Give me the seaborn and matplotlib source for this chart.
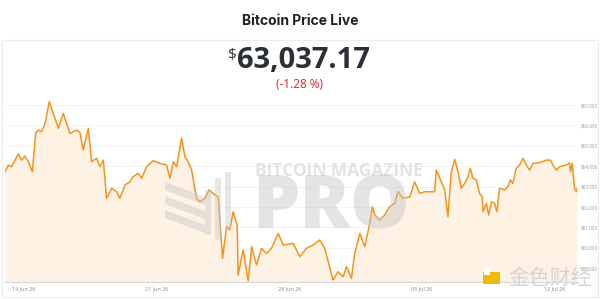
import numpy as np
import pandas as pd
import matplotlib
matplotlib.use("Agg")
import matplotlib.pyplot as plt
import matplotlib.dates as mdates
from matplotlib.patches import Rectangle, Polygon
import seaborn as sns

# days after 14 Jun 2026 00:00
days = [-0.37, -0.19, -0.02, 0.33, 0.51, 0.68, 0.86, 1.07, 1.25, 1.38, 1.56, 1.74,
        1.96, 2.17, 2.44, 2.70, 3.05, 3.41, 3.58, 3.75, 4.02, 4.19, 4.46, 4.63,
        4.81, 4.98, 5.25, 5.51, 5.68, 5.95, 6.21, 6.38, 6.65, 6.83, 7.09, 7.44,
        7.79, 8.14, 8.32, 8.49, 8.67, 8.93, 9.11, 9.28, 9.46, 9.72, 9.89, 10.16,
        10.38, 10.59, 10.86, 11.09, 11.30, 11.47, 11.65, 11.86, 11.91, 12.17,
        12.44, 12.62, 12.88, 13.14, 13.41, 13.68, 14.02, 14.28, 14.81, 15.16,
        15.51, 15.86, 16.21, 16.47, 16.91, 17.17, 17.44, 17.62, 17.88, 18.05,
        18.32, 18.58, 18.84, 18.98, 19.11, 19.37, 19.63, 19.89, 20.16, 20.33,
        20.59, 20.95, 21.21, 21.47, 21.74, 22.26, 22.35, 22.53, 22.79, 22.96,
        23.14, 23.32, 23.49, 23.67, 23.84, 24.02, 24.14, 24.28, 24.46, 24.63,
        24.77, 24.81, 24.98, 25.11, 25.25, 25.42, 25.54, 25.68, 25.95, 26.12,
        26.25, 26.38, 26.56, 26.74, 26.91, 27.09, 27.26, 27.44, 27.79, 28.14,
        28.37, 28.49, 28.67, 28.84, 29.19, 29.37, 29.42, 29.51, 29.63, 29.72, 29.76]
prices = [63730, 64060, 63980, 64600, 64300, 64500, 64220, 63730, 65640, 65770, 65690, 66100,
          67160, 66590, 65860, 66590, 65610, 65770, 65640, 64800, 65860, 64220, 64390, 63980,
          64300, 62430, 62920, 62750, 62430, 63080, 63240, 63490, 63650, 63410, 63980, 64270,
          64140, 64060, 63410, 64220, 63980, 65370, 64470, 64220, 63810, 62430, 62260, 62430,
          62840, 62670, 62500, 59490, 61040, 60880, 61770, 61120, 58670, 59900,
          58390, 60060, 59160, 59980, 59730, 60000, 60710, 60140, 60220, 59570,
          59980, 60140, 60390, 59980, 58430, 58830, 58590, 59080, 58510, 59730,
          60710, 60060, 61200, 62020, 61610, 61360, 61610, 62020, 62180, 62750,
          62430, 62500, 63240, 62670, 62750, 62750, 63810, 63410, 62840, 61530,
          63730, 64340, 63730, 62920, 63160, 63490, 63900, 63410, 63330, 62670,
          62500, 61770, 62180, 61610, 62260, 62180, 61770, 62920, 62840, 63000,
          63330, 63160, 63900, 64060, 64390, 64060, 63810, 64140, 64170, 64300,
          64300, 64060, 63810, 63980, 64060, 64170, 63730, 64140, 62920, 62750, 62920]
y_ticks = [59000, 60000, 61000, 62000, 63000, 64000, 65000, 66000, 67000]
x_ticks = ["2026-06-14", "2026-06-21", "2026-06-28", "2026-07-05", "2026-07-12"]

start = pd.Timestamp("2026-06-14")
df = pd.DataFrame({"time": start + pd.to_timedelta(days, unit="D"), "price": prices})

sns.set_style("white")
plt.rcParams["font.family"] = ["Open Sans", "Noto Sans CJK SC", "DejaVu Sans"]

fig = plt.figure(figsize=(6, 2.99), dpi=100)
W, H = 600, 299

def fx(px):
    return px / W

def fy(py):
    return 1 - py / H

# card border
fig.patches.append(Rectangle((fx(2), fy(297)), fx(596), (297 - 40) / H, transform=fig.transFigure,
                             fill=False, edgecolor="#ececec", linewidth=0.8))

fig.text(0.5, fy(21), "Bitcoin Price Live", ha="center", va="center", fontsize=10,
         fontweight="bold", color="#222222", family=["Inter", "DejaVu Sans"])
fig.text(fx(237), fy(56), "$", ha="right", va="center", fontsize=11, color="#2b2f36")
fig.text(fx(237), fy(61), "63,037.17", ha="left", va="center", fontsize=21,
         fontweight="bold", color="#2b2f36")
fig.text(0.5, fy(85), "(-1.28 %)", ha="center", va="center", fontsize=8.5, color="#e0242b")

ax = fig.add_axes([fx(5), fy(282), fx(577 - 5), (282 - 95) / H])
ax.set_facecolor("white")

ax.fill_between(df["time"], df["price"], 58000, color="#fdf2e4", zorder=1, linewidth=0)
sns.lineplot(data=df, x="time", y="price", ax=ax, color="#f7931a", linewidth=1.1, zorder=4)

ax.set_ylim(58330, 67490)
ax.set_xlim(df["time"].iloc[0], df["time"].iloc[-1])
ax.set_yticks(y_ticks)
ax.set_yticklabels(["${:,}".format(v) for v in y_ticks])
ax.yaxis.tick_right()
ax.set_xticks(pd.to_datetime(x_ticks))
ax.xaxis.set_major_formatter(mdates.DateFormatter("%d %b %y"))
ax.tick_params(axis="y", length=0, pad=2.5, labelsize=3.3, labelcolor="#9a9a9a")
ax.tick_params(axis="x", length=0, pad=3, labelsize=4, labelcolor="#8a8a8a")
for lbl in ax.get_xticklabels():
    lbl.set_ha("left")
ax.grid(axis="y", color="#f0f0f0", linewidth=0.6, zorder=0)
ax.set_axisbelow(True)
for side in ["top", "right", "left"]:
    ax.spines[side].set_visible(False)
ax.spines["bottom"].set_color("#d6d6d6")
ax.spines["bottom"].set_linewidth(0.8)
ax.set_xlabel("")
ax.set_ylabel("")

# watermarks
wm = "#c4c4c4"
fig.text(fx(255), fy(171), "BITCOIN MAGAZINE", ha="left", va="center", fontsize=12.5,
         fontweight="bold", color=wm, alpha=0.45, zorder=3)
fig.text(fx(252), fy(208), "PRO", ha="left", va="center", fontsize=54,
         fontweight="heavy", color=wm, alpha=0.45, zorder=3)
for k in range(3):
    top = 182 + k * 14
    fig.patches.append(Polygon([(fx(165), fy(top)), (fx(205), fy(top + 15)),
                                (fx(205), fy(top + 23)), (fx(165), fy(top + 8))],
                               closed=True, transform=fig.transFigure,
                               facecolor=wm, alpha=0.4, edgecolor="none", zorder=3))
for k, (x0, h0, h1) in enumerate([(205, 190, 235), (215, 178, 240), (225, 172, 230)]):
    fig.patches.append(Rectangle((fx(x0), fy(h1)), fx(6), (h1 - h0) / H,
                                 transform=fig.transFigure, facecolor=wm,
                                 alpha=0.4, edgecolor="none", zorder=3))

fig.patches.append(Rectangle((fx(483), fy(284)), fx(17), 12 / H, transform=fig.transFigure,
                             facecolor="#f0b90b", edgecolor="none", zorder=5))
fig.patches.append(Rectangle((fx(484), fy(275)), fx(6), 7 / H, transform=fig.transFigure,
                             facecolor="white", edgecolor="none", zorder=6))
fig.text(fx(508), fy(278), "金色财经", ha="left", va="center", fontsize=15,
         color="#d5d5d5", family=["Noto Sans CJK SC", "DejaVu Sans"], zorder=5)

fig.savefig("out.png", dpi=100)
